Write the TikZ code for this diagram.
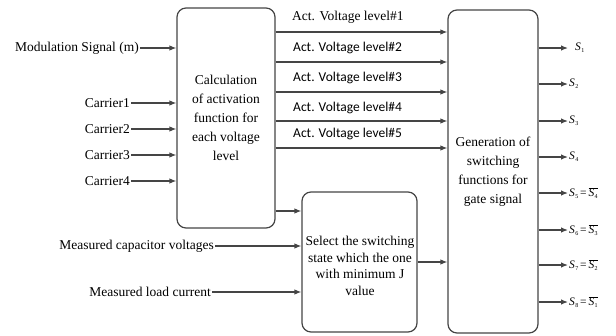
\documentclass[tikz,border=0pt]{standalone}
\usepackage{fontspec}
\setmainfont{Liberation Serif}
\newfontfamily\actfont{Carlito}
\usetikzlibrary{arrows.meta}
\definecolor{ln}{HTML}{454545}
\newcommand{\ssym}[1]{{\itshape S}\kern0.3pt\raisebox{-2pt}{\fontsize{6}{6}\selectfont #1}}
\newcommand{\sbar}[1]{$\overline{\hbox{\ssym{#1}}}$}
\tikzset{
  arr/.style={draw=ln, line width=1.2pt, -{Latex[length=7pt,width=5.5pt]}},
  blk/.style={draw=ln, line width=1.2pt, rounded corners=9pt, align=center, inner sep=2pt},
  lbl/.style={font=\fontsize{13.5}{16}\selectfont, inner sep=1pt},
  act/.style={font=\actfont\fontsize{13.5}{16}\selectfont, inner sep=0pt, anchor=west},
  outl/.style={inner sep=1pt, anchor=west, font=\fontsize{11.5}{13}\selectfont}
}
\begin{document}
\begin{tikzpicture}[x=1pt,y=-1pt]
\useasboundingbox (0,0) rectangle (616,335);
% blocks
\node[blk, minimum width=98pt, minimum height=220pt, font=\fontsize{13.5}{19}\selectfont] (calc) at (226,118)
  {Calculation\\of activation\\function for\\each voltage\\level};
\node[blk, minimum width=90pt, minimum height=323pt, font=\fontsize{13.5}{19}\selectfont] (gen) at (493,171.5)
  {Generation of\\switching\\functions for\\gate signal};
\node[blk, minimum width=115pt, minimum height=140pt] (sel) at (359.5,262) {};
\node[align=center, inner sep=0pt, font=\fontsize{13.5}{16.5}\selectfont] (seltext) at (360,266)
  {Select the switching\\state which the one\\with minimum J\\value};
% inputs
\node[lbl, anchor=east] (mod) at (140,48) {Modulation Signal (m)};
\node[lbl, anchor=east] (c1) at (131,103) {Carrier1};
\node[lbl, anchor=east] (c2) at (131,129) {Carrier2};
\node[lbl, anchor=east] (c3) at (131,155) {Carrier3};
\node[lbl, anchor=east] (c4) at (131,181) {Carrier4};
\foreach \n in {mod,c1,c2,c3,c4} \draw[arr] (\n.east) -- (\n.east -| calc.west);
\node[lbl, anchor=east] (mcv) at (215,246) {Measured capacitor voltages};
\node[lbl, anchor=east] (mlc) at (212,292) {Measured load current};
\draw[arr] (mcv.east) -- (mcv.east -| sel.west);
\draw[arr] (mlc.east) -- (mlc.east -| sel.west);
% calc -> sel
\coordinate (cs) at (0,211);
\draw[arr] (calc.east |- cs) -- (sel.west |- cs);
% sel -> gen
\draw[arr] (sel.east) -- (sel.east -| gen.west);
% activation lines
\coordinate (a1) at (0,32);
\coordinate (a2) at (0,62);
\coordinate (a3) at (0,92);
\coordinate (a4) at (0,121);
\coordinate (a5) at (0,148);
\foreach \a in {a1,a2,a3,a4,a5} \draw[arr] (calc.east |- \a) -- (gen.west |- \a);
\node[lbl, anchor=west, inner sep=0pt] (t1) at (292,17) {Act. Voltage level\#1};
\node[act] (t2) at (293,48) {Act. Voltage level\#2};
\node[act] (t3) at (293,78) {Act. Voltage level\#3};
\node[act] (t4) at (293,108) {Act. Voltage level\#4};
\node[act] (t5) at (293,134) {Act. Voltage level\#5};
% outputs
\node[outl] (s1) at (574,48) {\ssym{1}};
\node[outl] (s2) at (568,84) {\ssym{2}};
\node[outl] (s3) at (568,121) {\ssym{3}};
\node[outl] (s4) at (568,157) {\ssym{4}};
\node[outl] (s5) at (568,193) {\ssym{5}\,=\,\sbar{4}};
\node[outl] (s6) at (568,230) {\ssym{6}\,=\,\sbar{3}};
\node[outl] (s7) at (568,265) {\ssym{7}\,=\,\sbar{2}};
\node[outl] (s8) at (568,302) {\ssym{8}\,=\,\sbar{1}};
\draw[arr] (gen.east |- s1.west) -- ([xshift=-6pt]s1.west);
\foreach \s in {s2,s3,s4,s5,s6,s7,s8} \draw[arr] (gen.east |- \s.west) -- (\s.west);
\end{tikzpicture}
\end{document}
